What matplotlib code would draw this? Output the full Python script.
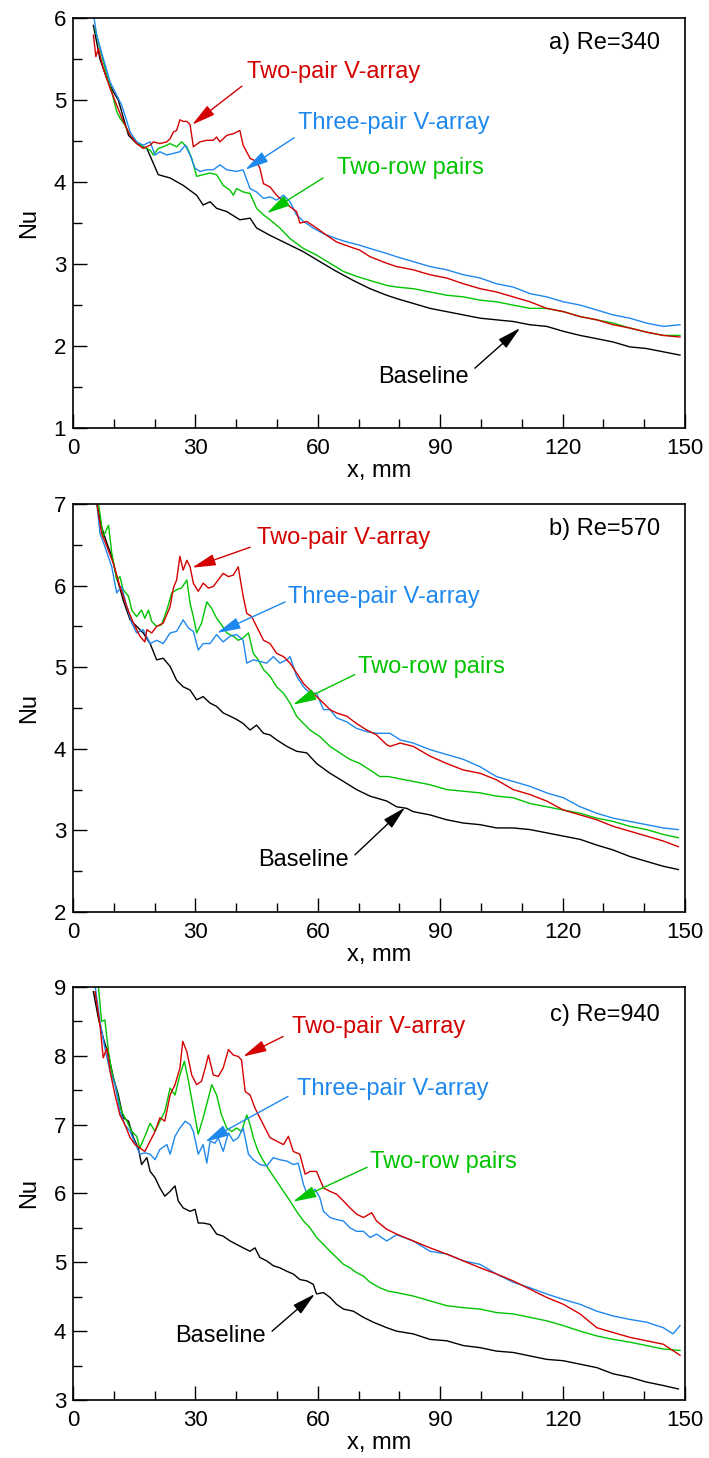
import numpy as np
import matplotlib
matplotlib.use('Agg')
import matplotlib.pyplot as plt
from matplotlib.ticker import MultipleLocator

plt.rcParams['font.family'] = ['Liberation Sans', 'DejaVu Sans']

RED = '#d40000'
BLUE = '#1e88ee'
GREEN = '#00c400'

series_names = ['Baseline', 'Two-pair V-array', 'Three-pair V-array', 'Two-row pairs']
panel_titles = ['a) Re=340', 'b) Re=570', 'c) Re=940']
y_limits = [(1, 6), (2, 7), (3, 9)]

# (x mm, Nu)
# a) Re=340
a_base = [(5.0, 5.91), (6.6, 5.5), (8.3, 5.26), (9.9, 5.1), (11.1, 5.0), (13.6, 4.57), (15.6, 4.47), (18.1, 4.41),
          (19.5, 4.25), (20.9, 4.09), (23.8, 4.05), (27.0, 3.96), (30.3, 3.84), (31.9, 3.72), (33.6, 3.76), (35.2, 3.68),
          (37.7, 3.64), (40.9, 3.54), (43.4, 3.56), (45.0, 3.44), (48.3, 3.35), (52.4, 3.25), (56.5, 3.15), (60.5, 3.03),
          (64.6, 2.91), (68.7, 2.8), (72.8, 2.7), (76.9, 2.62), (79.3, 2.58), (83.4, 2.52), (87.5, 2.46), (91.6, 2.42),
          (95.7, 2.38), (99.8, 2.34), (103.8, 2.32), (107.9, 2.30), (112.0, 2.26), (116.1, 2.24), (120.2, 2.18),
          (124.3, 2.13), (128.4, 2.09), (132.4, 2.05), (136.5, 1.99), (140.6, 1.97), (144.7, 1.93), (148.8, 1.89)]
a_red = [(5.0, 5.79), (5.6, 5.53), (6.2, 5.63), (7.4, 5.39), (9.1, 5.14), (10.7, 4.94), (12.3, 4.74), (14.0, 4.57),
         (15.6, 4.47), (17.2, 4.41), (18.9, 4.45), (19.7, 4.49), (21.3, 4.47), (23.0, 4.49), (23.8, 4.53), (24.6, 4.61),
         (25.4, 4.63), (26.2, 4.76), (27.0, 4.74), (27.9, 4.74), (28.7, 4.70), (29.5, 4.43), (31.1, 4.49), (32.8, 4.51),
         (34.4, 4.51), (35.2, 4.55), (36.0, 4.49), (37.7, 4.57), (39.3, 4.59), (40.9, 4.63), (41.7, 4.45), (43.4, 4.29),
         (45.0, 4.25), (45.8, 4.17), (46.7, 3.98), (48.3, 3.94), (49.9, 3.84), (51.6, 3.76), (53.2, 3.70), (54.8, 3.64),
         (55.6, 3.50), (57.3, 3.52), (59.7, 3.44), (62.2, 3.35), (64.6, 3.27), (67.9, 3.21), (70.3, 3.17), (72.8, 3.09),
         (76.9, 3.01), (79.3, 2.97), (83.4, 2.93), (87.5, 2.87), (91.6, 2.83), (95.7, 2.76), (99.8, 2.70), (103.8, 2.66),
         (107.9, 2.60), (112.0, 2.54), (116.1, 2.46), (120.2, 2.42), (124.3, 2.36), (128.4, 2.32), (132.4, 2.26),
         (136.5, 2.22), (140.6, 2.17), (144.7, 2.13), (148.8, 2.11)]
a_blue = [(5.0, 6.05), (5.8, 5.79), (7.4, 5.51), (9.1, 5.22), (10.7, 5.06), (11.9, 4.94), (12.7, 4.82), (14.0, 4.61),
          (15.6, 4.49), (17.2, 4.45), (18.9, 4.49), (20.1, 4.33), (21.3, 4.37), (23.0, 4.33), (24.6, 4.35), (26.2, 4.37),
          (27.5, 4.45), (28.7, 4.33), (29.9, 4.17), (31.1, 4.13), (32.8, 4.15), (34.4, 4.15), (36.0, 4.21), (37.7, 4.15),
          (40.1, 4.13), (41.7, 4.15), (43.4, 3.92), (45.0, 3.88), (46.7, 3.80), (48.3, 3.82), (49.9, 3.78), (51.6, 3.84),
          (53.2, 3.76), (54.8, 3.60), (56.5, 3.52), (58.9, 3.44), (61.4, 3.37), (64.6, 3.31), (67.1, 3.27), (70.3, 3.23),
          (72.8, 3.19), (76.9, 3.13), (79.3, 3.09), (83.4, 3.03), (87.5, 2.97), (91.6, 2.93), (95.7, 2.87), (99.8, 2.83),
          (103.8, 2.76), (107.9, 2.72), (112.0, 2.64), (116.1, 2.60), (120.2, 2.54), (124.3, 2.50), (128.4, 2.44),
          (132.4, 2.38), (136.5, 2.34), (140.6, 2.28), (144.7, 2.24), (148.8, 2.26)]
a_green = [(5.4, 5.87), (6.6, 5.63), (8.3, 5.30), (9.5, 5.10), (10.7, 4.86), (11.5, 4.78), (12.7, 4.70), (14.0, 4.57),
           (15.6, 4.49), (17.2, 4.43), (18.9, 4.39), (19.7, 4.33), (20.9, 4.41), (22.1, 4.43), (23.8, 4.47), (25.4, 4.43),
           (26.6, 4.49), (27.9, 4.43), (29.1, 4.29), (30.3, 4.07), (31.9, 4.09), (33.6, 4.11), (35.2, 4.09), (36.8, 3.96),
           (38.5, 3.90), (39.3, 3.84), (40.1, 3.92), (41.7, 3.88), (43.4, 3.86), (45.0, 3.68), (46.7, 3.60), (48.3, 3.54),
           (50.7, 3.44), (53.2, 3.31), (56.5, 3.19), (59.7, 3.11), (63.0, 3.01), (66.3, 2.91), (69.5, 2.85), (72.8, 2.80),
           (76.9, 2.74), (79.3, 2.72), (83.4, 2.70), (87.5, 2.66), (91.6, 2.62), (95.7, 2.60), (99.8, 2.56), (103.8, 2.54),
           (107.9, 2.50), (112.0, 2.46), (116.1, 2.46), (120.2, 2.42), (124.3, 2.36), (128.4, 2.32), (132.4, 2.28),
           (136.5, 2.22), (140.6, 2.17), (144.7, 2.13), (148.8, 2.13)]

# b) Re=570
b_base = [(5.8, 7.02), (7.0, 6.72), (8.3, 6.52), (9.5, 6.36), (10.7, 6.11), (12.3, 5.82), (14.0, 5.58), (15.6, 5.50),
          (17.2, 5.42), (18.9, 5.29), (20.5, 5.09), (22.1, 5.11), (23.8, 5.01), (25.4, 4.84), (27.0, 4.76), (28.7, 4.72),
          (30.3, 4.60), (31.9, 4.64), (33.6, 4.56), (35.2, 4.52), (36.8, 4.44), (38.5, 4.40), (40.1, 4.36), (41.7, 4.31),
          (43.4, 4.23), (45.0, 4.29), (46.7, 4.19), (48.3, 4.17), (49.9, 4.11), (52.4, 4.03), (54.8, 3.97), (57.3, 3.95),
          (59.7, 3.82), (63.0, 3.70), (66.3, 3.60), (69.5, 3.50), (72.8, 3.42), (76.9, 3.36), (79.3, 3.29), (81.8, 3.27),
          (83.4, 3.23), (87.5, 3.19), (91.6, 3.13), (95.7, 3.09), (99.8, 3.07), (103.8, 3.03), (107.9, 3.03), (112.0, 3.01),
          (116.1, 2.97), (120.2, 2.93), (124.3, 2.89), (128.4, 2.82), (132.4, 2.76), (136.5, 2.68), (140.6, 2.62),
          (144.7, 2.56), (148.4, 2.52)]
b_red = [(5.8, 7.02), (7.0, 6.64), (8.3, 6.48), (9.9, 6.27), (11.5, 5.99), (13.2, 5.74), (14.8, 5.54), (16.4, 5.38),
         (17.6, 5.31), (18.1, 5.46), (19.3, 5.42), (20.5, 5.50), (22.1, 5.54), (23.8, 5.74), (24.6, 5.97), (25.4, 6.07),
         (26.2, 6.36), (27.0, 6.19), (27.9, 6.31), (28.7, 6.23), (29.5, 6.03), (30.7, 5.93), (31.9, 6.03), (33.2, 5.97),
         (34.4, 5.99), (35.6, 6.07), (36.8, 6.15), (38.1, 6.11), (39.3, 6.13), (40.5, 6.23), (41.7, 5.87), (42.6, 5.66),
         (43.8, 5.62), (45.0, 5.50), (46.7, 5.33), (48.3, 5.29), (49.9, 5.17), (51.6, 5.13), (53.2, 5.05), (54.8, 4.93),
         (56.5, 4.80), (58.1, 4.72), (59.7, 4.64), (61.4, 4.56), (63.0, 4.48), (64.6, 4.44), (67.1, 4.40), (69.5, 4.31),
         (72.0, 4.23), (74.4, 4.17), (76.9, 4.05), (77.7, 4.03), (80.2, 4.07), (83.4, 4.03), (87.5, 3.91), (91.6, 3.82),
         (95.7, 3.74), (99.8, 3.70), (103.8, 3.62), (107.9, 3.50), (112.0, 3.44), (116.1, 3.36), (120.2, 3.25),
         (124.3, 3.19), (128.4, 3.13), (132.4, 3.05), (136.5, 2.99), (140.6, 2.93), (144.7, 2.87), (148.4, 2.80)]
b_blue = [(5.8, 7.02), (6.6, 6.64), (7.8, 6.48), (9.5, 6.23), (10.7, 5.91), (11.9, 5.99), (13.2, 5.74), (14.4, 5.54),
          (15.6, 5.42), (17.2, 5.46), (18.9, 5.29), (20.5, 5.33), (22.1, 5.29), (23.8, 5.42), (25.4, 5.44), (27.0, 5.58),
          (28.3, 5.48), (29.5, 5.44), (30.7, 5.21), (31.9, 5.29), (33.6, 5.29), (35.2, 5.40), (36.8, 5.31), (38.5, 5.38),
          (40.1, 5.40), (41.7, 5.33), (42.6, 5.05), (44.2, 5.09), (45.8, 5.07), (47.5, 5.05), (49.1, 5.13), (50.7, 5.05),
          (52.4, 5.09), (53.2, 5.13), (54.8, 4.89), (56.5, 4.76), (58.1, 4.68), (59.7, 4.68), (61.4, 4.48), (63.0, 4.48),
          (64.6, 4.38), (67.1, 4.33), (69.5, 4.25), (72.0, 4.21), (74.4, 4.19), (76.9, 4.19), (77.7, 4.19), (80.2, 4.11),
          (83.4, 4.07), (87.5, 3.99), (91.6, 3.93), (95.7, 3.87), (99.8, 3.78), (103.8, 3.66), (107.9, 3.60), (112.0, 3.54),
          (116.1, 3.46), (120.2, 3.40), (124.3, 3.29), (128.4, 3.21), (132.4, 3.15), (136.5, 3.11), (140.6, 3.07),
          (144.7, 3.03), (148.4, 3.01)]
b_green = [(6.2, 7.02), (7.4, 6.60), (8.7, 6.74), (9.5, 6.40), (10.7, 6.07), (11.5, 6.11), (12.3, 5.95), (13.6, 5.87),
           (14.4, 5.70), (15.6, 5.62), (16.8, 5.70), (17.6, 5.60), (18.5, 5.70), (19.3, 5.56), (20.5, 5.50), (21.7, 5.52),
           (23.0, 5.70), (24.2, 5.91), (25.4, 5.95), (26.6, 5.97), (27.9, 6.07), (28.7, 5.78), (29.5, 5.62), (30.3, 5.42),
           (31.5, 5.54), (32.8, 5.80), (34.0, 5.72), (35.2, 5.60), (36.4, 5.52), (37.7, 5.42), (39.3, 5.38), (40.5, 5.33),
           (41.7, 5.36), (43.0, 5.42), (44.2, 5.17), (45.4, 5.09), (46.7, 4.97), (48.3, 4.89), (49.9, 4.76), (51.6, 4.68),
           (53.2, 4.56), (54.8, 4.40), (56.5, 4.31), (58.1, 4.23), (60.5, 4.15), (63.0, 4.03), (65.4, 3.95), (67.9, 3.87),
           (70.3, 3.82), (72.8, 3.74), (75.2, 3.66), (77.3, 3.66), (79.3, 3.64), (83.4, 3.60), (87.5, 3.56), (91.6, 3.50),
           (95.7, 3.48), (99.8, 3.46), (103.8, 3.42), (107.9, 3.40), (112.0, 3.33), (116.1, 3.29), (120.2, 3.25),
           (124.3, 3.21), (128.4, 3.15), (132.4, 3.11), (136.5, 3.05), (140.6, 3.01), (144.7, 2.95), (148.4, 2.91)]

# c) Re=940
c_base = [(5.0, 8.93), (6.2, 8.55), (7.4, 8.26), (8.7, 8.01), (9.9, 7.68), (11.1, 7.43), (12.3, 7.10), (13.6, 7.05),
          (14.8, 6.81), (16.0, 6.66), (16.8, 6.42), (18.1, 6.52), (18.9, 6.32), (20.1, 6.23), (21.3, 6.08), (22.5, 5.96),
          (23.8, 6.03), (25.0, 6.11), (25.8, 5.89), (27.0, 5.79), (28.7, 5.74), (29.9, 5.77), (30.7, 5.57), (31.9, 5.57),
          (33.6, 5.55), (35.2, 5.41), (36.8, 5.38), (38.5, 5.31), (40.1, 5.26), (41.7, 5.21), (43.4, 5.16), (44.6, 5.21),
          (45.8, 5.07), (47.5, 5.02), (49.1, 4.95), (50.7, 4.92), (52.4, 4.87), (54.0, 4.83), (55.6, 4.75), (57.3, 4.73),
          (58.9, 4.68), (59.7, 4.54), (61.4, 4.56), (63.0, 4.49), (64.6, 4.39), (66.3, 4.32), (68.7, 4.29), (71.2, 4.20),
          (73.6, 4.13), (76.9, 4.05), (79.3, 4.00), (83.4, 3.96), (87.5, 3.88), (91.6, 3.86), (95.7, 3.79), (99.8, 3.76),
          (103.8, 3.71), (107.9, 3.69), (112.0, 3.64), (116.1, 3.59), (120.2, 3.57), (124.3, 3.52), (128.4, 3.47),
          (132.4, 3.38), (136.5, 3.33), (140.6, 3.26), (144.7, 3.21), (148.4, 3.16)]
c_red = [(5.4, 8.93), (6.6, 8.45), (7.4, 7.97), (8.3, 8.11), (9.1, 7.77), (10.3, 7.43), (11.5, 7.14), (12.7, 7.00),
         (14.0, 6.81), (15.2, 6.71), (16.4, 6.66), (17.6, 6.61), (18.9, 6.76), (20.1, 6.90), (21.3, 7.10), (22.5, 7.05),
         (23.8, 7.43), (25.0, 7.58), (26.2, 7.82), (26.9, 8.21), (27.9, 8.06), (29.1, 7.72), (30.3, 7.58), (31.5, 7.63),
         (32.4, 7.82), (33.2, 8.01), (34.4, 7.72), (35.6, 7.70), (36.8, 7.82), (38.1, 8.09), (39.3, 8.01), (40.5, 7.99),
         (41.3, 7.94), (42.2, 7.48), (43.4, 7.43), (44.6, 7.24), (45.8, 7.10), (47.5, 6.90), (48.3, 6.81), (49.9, 6.76),
         (51.6, 6.71), (52.8, 6.83), (54.0, 6.61), (55.6, 6.57), (56.9, 6.28), (58.1, 6.32), (59.7, 6.32), (61.4, 6.08),
         (63.0, 6.03), (64.6, 5.99), (66.3, 5.89), (67.9, 5.79), (69.5, 5.70), (71.2, 5.65), (73.2, 5.72), (74.4, 5.60),
         (76.9, 5.48), (79.3, 5.41), (83.4, 5.31), (87.5, 5.21), (91.6, 5.12), (95.7, 5.02), (99.8, 4.92), (103.8, 4.83),
         (107.9, 4.73), (112.0, 4.61), (116.1, 4.49), (120.2, 4.39), (124.3, 4.25), (128.4, 4.05), (132.4, 3.98),
         (136.5, 3.91), (140.6, 3.86), (144.7, 3.81), (148.8, 3.65)]
c_blue = [(5.4, 9.02), (6.6, 8.50), (7.8, 8.11), (9.1, 7.77), (10.3, 7.58), (11.5, 7.19), (12.7, 7.00), (14.0, 6.90),
          (15.2, 6.73), (16.4, 6.57), (17.6, 6.59), (18.9, 6.57), (20.1, 6.49), (21.3, 6.64), (23.0, 6.71), (23.8, 6.57),
          (25.0, 6.83), (26.2, 6.95), (27.5, 7.05), (28.7, 7.00), (29.5, 6.90), (30.7, 6.57), (31.9, 6.71), (32.8, 6.44),
          (33.6, 6.76), (34.8, 6.73), (35.6, 6.81), (36.8, 6.61), (38.1, 6.88), (39.3, 6.76), (40.5, 6.81), (41.7, 6.95),
          (43.0, 6.57), (44.2, 6.49), (45.8, 6.42), (47.5, 6.40), (49.1, 6.52), (50.7, 6.49), (52.4, 6.47), (54.0, 6.42),
          (55.2, 6.44), (56.5, 6.13), (57.7, 5.94), (59.3, 6.06), (60.5, 5.94), (61.4, 5.74), (63.0, 5.65), (64.6, 5.62),
          (66.3, 5.60), (67.9, 5.50), (69.5, 5.45), (71.2, 5.45), (72.8, 5.36), (74.4, 5.41), (76.9, 5.31), (79.3, 5.40),
          (83.4, 5.31), (87.5, 5.16), (91.6, 5.12), (95.7, 5.02), (99.8, 4.97), (103.8, 4.83), (107.9, 4.71), (112.0, 4.63),
          (116.1, 4.54), (120.2, 4.46), (124.3, 4.39), (128.4, 4.29), (132.4, 4.22), (136.5, 4.17), (140.6, 4.13),
          (144.7, 4.05), (147.1, 3.96), (148.8, 4.08)]
c_green = [(6.2, 9.02), (7.0, 8.50), (7.8, 8.52), (8.7, 8.06), (9.5, 7.77), (10.7, 7.48), (11.9, 7.19), (13.2, 7.05),
           (14.4, 6.90), (15.6, 6.83), (16.4, 6.66), (17.6, 6.83), (18.9, 7.02), (20.1, 6.90), (21.3, 7.05), (22.5, 7.19),
           (23.8, 7.53), (25.0, 7.43), (26.2, 7.72), (27.3, 7.92), (28.3, 7.63), (29.5, 7.24), (30.7, 6.86), (31.9, 7.10),
           (33.2, 7.39), (34.0, 7.58), (35.2, 7.43), (36.4, 7.14), (37.7, 6.95), (38.9, 6.90), (40.1, 6.95), (41.3, 6.90),
           (42.6, 7.14), (43.4, 7.00), (44.2, 6.81), (45.4, 6.61), (46.7, 6.47), (48.3, 6.32), (49.9, 6.18), (51.6, 6.03),
           (53.2, 5.89), (54.8, 5.74), (56.5, 5.60), (58.1, 5.50), (59.7, 5.36), (61.4, 5.26), (63.0, 5.16), (64.6, 5.07),
           (66.3, 4.97), (67.9, 4.92), (69.5, 4.85), (71.2, 4.80), (72.8, 4.71), (75.2, 4.63), (77.3, 4.58), (79.3, 4.56),
           (83.4, 4.51), (87.5, 4.44), (91.6, 4.37), (95.7, 4.34), (99.8, 4.32), (103.8, 4.27), (107.9, 4.25), (112.0, 4.20),
           (116.1, 4.15), (120.2, 4.08), (124.3, 4.00), (128.4, 3.93), (132.4, 3.88), (136.5, 3.84), (140.6, 3.79),
           (144.7, 3.74), (148.8, 3.72)]

panels = [(a_base, a_red, a_blue, a_green), (b_base, b_red, b_blue, b_green), (c_base, c_red, c_blue, c_green)]

# label position, arrow tail, arrow tip for each series (data coords)
notes = [
    [((74.8, 1.62), (98.5, 1.73), (109.6, 2.22)),
     ((42.6, 5.34), (41.4, 5.17), (29.2, 4.70)),
     ((55.2, 4.72), (54.2, 4.54), (42.2, 4.15)),
     ((64.7, 4.17), (61.3, 4.05), (47.5, 3.62))],
    [((45.3, 2.64), (69.1, 2.70), (81.4, 3.28)),
     ((45.1, 6.58), (43.4, 6.47), (29.2, 6.22)),
     ((52.7, 5.86), (52.0, 5.80), (35.3, 5.42)),
     ((69.9, 5.00), (69.1, 4.91), (53.9, 4.54))],
    [((25.0, 3.93), (48.8, 4.00), (59.3, 4.54)),
     ((53.7, 8.42), (51.5, 8.28), (41.7, 7.99)),
     ((54.9, 7.51), (52.7, 7.41), (32.4, 6.75)),
     ((72.8, 6.45), (72.1, 6.38), (53.9, 5.88))],
]

colors = ['black', RED, BLUE, GREEN]
draw_order = [0, 3, 2, 1]

boxes = [[0.103, 0.7064, 0.863, 0.2812],
         [0.103, 0.3745, 0.863, 0.2798],
         [0.103, 0.0398, 0.863, 0.2833]]

fig = plt.figure(figsize=(7.09, 14.58), dpi=100)

for p in range(3):
    ax = fig.add_axes(boxes[p])
    for k in draw_order:
        pts = np.array(panels[p][k])
        ax.plot(pts[:, 0], pts[:, 1], color=colors[k], lw=1.0)

    for k in range(4):
        (tx, ty), tail, tip = notes[p][k]
        ax.text(tx, ty, series_names[k], color=colors[k], fontsize=17, ha='left', va='center')
        ax.annotate('', xy=tip, xytext=tail,
                    arrowprops=dict(arrowstyle='-|>,head_length=0.9,head_width=0.22',
                                    color=colors[k], lw=1.0, mutation_scale=16,
                                    shrinkA=0, shrinkB=0))

    ax.text(143.9, y_limits[p][1] - (0.30 if p < 2 else 0.41), panel_titles[p],
            fontsize=17, ha='right', va='center')

    ax.set_xlim(0, 150)
    ax.set_ylim(*y_limits[p])
    ax.xaxis.set_major_locator(MultipleLocator(30))
    ax.xaxis.set_minor_locator(MultipleLocator(10))
    ax.yaxis.set_major_locator(MultipleLocator(1))
    ax.yaxis.set_minor_locator(MultipleLocator(0.5))
    ax.tick_params(which='both', direction='in', top=False, right=False, width=1)
    ax.tick_params(which='major', length=10, labelsize=16)
    ax.tick_params(axis='x', which='major', pad=7)
    ax.tick_params(axis='y', which='major', pad=5)
    ax.tick_params(which='minor', length=6.5)
    for s in ax.spines.values():
        s.set_linewidth(1.2)
    ax.set_xlabel('x, mm', fontsize=17, labelpad=1)
    ax.set_ylabel('Nu', fontsize=17, labelpad=10)

fig.savefig('out.png', dpi=100)
